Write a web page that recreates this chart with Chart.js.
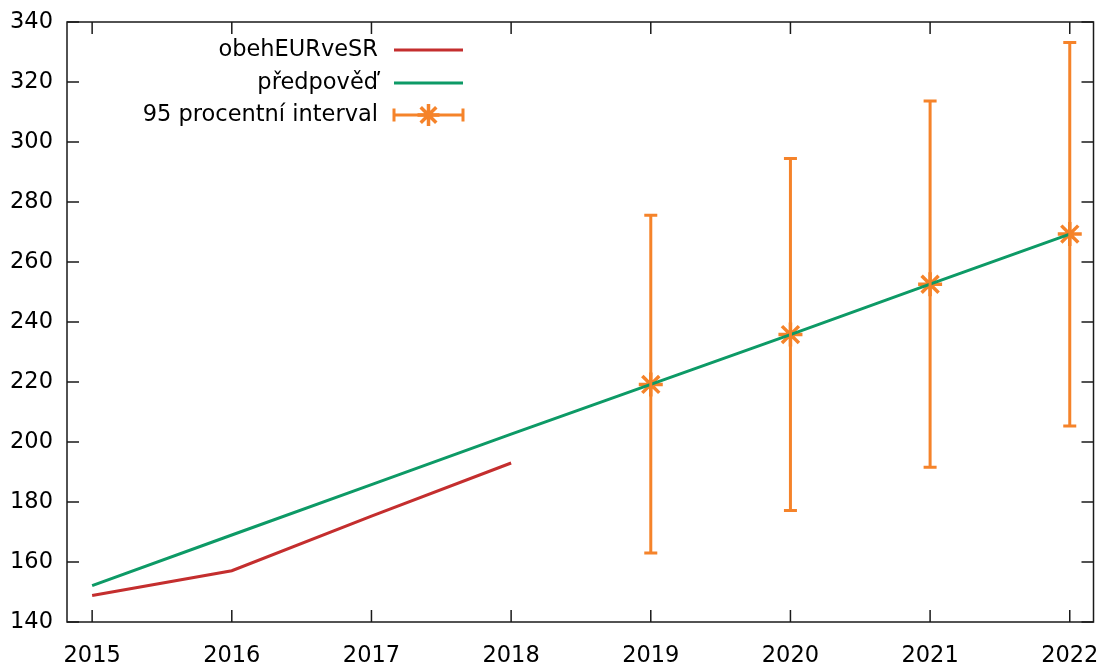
<!DOCTYPE html>
<html>
<head>
<meta charset="utf-8">
<script src="https://cdn.jsdelivr.net/npm/chart.js@4"></script>
<style>
  html, body { margin: 0; padding: 0; background: #fff; overflow: hidden; }
  /* a bit wider than the window: Chart.js keeps ~15px on the right for the last x label */
  #wrap { width: 1109px; height: 666px; position: relative; }
  canvas { display: block; }
</style>
</head>
<body>
<div id="wrap"><canvas id="c"></canvas></div>
<script>
// data
const years = [2015, 2016, 2017, 2018, 2019, 2020, 2021, 2022];
const obehEUR = [148.8, 157.1, 175.3, 193.0];
const predpoved = [152.1, 169.0, 185.8, 202.6, 219.2, 235.8, 252.6, 269.3];
const intervalYears = [2019, 2020, 2021, 2022];
const intervalMid = [219.2, 235.8, 252.6, 269.3];
const intervalLow = [163.0, 177.2, 191.6, 205.3];
const intervalHigh = [275.6, 294.5, 313.7, 333.2];
const legendLabels = ['obehEURveSR', 'předpověď', '95 procentní interval'];

const RED = '#c42e2e';
const GREEN = '#0d9a66';
const ORANGE = '#f5832a';
const FONT = "'DejaVu Sans', sans-serif";
const FSIZE = 22.5;

function pts(xs, ys) {
  return ys.map((v, i) => ({ x: xs[i], y: v }));
}

const noPad = () => ({ left: 0, top: 0, right: 0, bottom: 0 });

// gnuplot-like frame with inward ticks on all four sides
const framePlugin = {
  id: 'frame',
  afterDatasetsDraw(chart) {
    const { ctx, chartArea: a, scales } = chart;
    ctx.save();
    ctx.strokeStyle = '#1a1a1a';
    ctx.lineWidth = 1.5;
    ctx.strokeRect(a.left, a.top, a.right - a.left, a.bottom - a.top);
    const tl = 12;
    ctx.beginPath();
    scales.x.ticks.forEach(t => {
      const px = scales.x.getPixelForValue(t.value);
      ctx.moveTo(px, a.bottom); ctx.lineTo(px, a.bottom - tl);
      ctx.moveTo(px, a.top); ctx.lineTo(px, a.top + tl);
    });
    scales.y.ticks.forEach(t => {
      const py = scales.y.getPixelForValue(t.value);
      ctx.moveTo(a.left, py); ctx.lineTo(a.left + tl, py);
      ctx.moveTo(a.right, py); ctx.lineTo(a.right - tl, py);
    });
    ctx.stroke();
    ctx.restore();
  }
};

// vertical error bars with caps
const errorBarPlugin = {
  id: 'errbars',
  afterDatasetsDraw(chart) {
    const { ctx, scales } = chart;
    ctx.save();
    ctx.strokeStyle = ORANGE;
    ctx.lineWidth = 3;
    ctx.beginPath();
    intervalYears.forEach((yr, i) => {
      const px = scales.x.getPixelForValue(yr);
      const lo = scales.y.getPixelForValue(intervalLow[i]);
      const hi = scales.y.getPixelForValue(intervalHigh[i]);
      ctx.moveTo(px, lo); ctx.lineTo(px, hi);
      ctx.moveTo(px - 6.5, lo); ctx.lineTo(px + 6.5, lo);
      ctx.moveTo(px - 6.5, hi); ctx.lineTo(px + 6.5, hi);
    });
    ctx.stroke();
    ctx.restore();
  }
};

// key: text right aligned, sample on the right
const keyPlugin = {
  id: 'key',
  afterDraw(chart) {
    const { ctx } = chart;
    const textRight = 378, x0 = 394, x1 = 463;
    const rows = [50, 83, 115];
    ctx.save();
    ctx.font = FSIZE + 'px ' + FONT;
    ctx.fillStyle = '#000';
    ctx.textAlign = 'right';
    ctx.textBaseline = 'middle';
    legendLabels.forEach((lab, i) => ctx.fillText(lab, textRight, rows[i]));
    ctx.lineWidth = 3;
    ctx.strokeStyle = RED;
    ctx.beginPath(); ctx.moveTo(x0, rows[0]); ctx.lineTo(x1, rows[0]); ctx.stroke();
    ctx.strokeStyle = GREEN;
    ctx.beginPath(); ctx.moveTo(x0, rows[1]); ctx.lineTo(x1, rows[1]); ctx.stroke();
    ctx.strokeStyle = ORANGE;
    const y = rows[2];
    ctx.beginPath();
    ctx.moveTo(x0, y); ctx.lineTo(x1, y);
    ctx.moveTo(x0, y - 6.5); ctx.lineTo(x0, y + 6.5);
    ctx.moveTo(x1, y - 6.5); ctx.lineTo(x1, y + 6.5);
    ctx.stroke();
    // asterisk in the middle
    const cx = (x0 + x1) / 2, r = 11;
    ctx.lineWidth = 3.5;
    ctx.beginPath();
    ctx.moveTo(cx - r, y); ctx.lineTo(cx + r, y);
    ctx.moveTo(cx, y - r); ctx.lineTo(cx, y + r);
    const d = r * 0.7071;
    ctx.moveTo(cx - d, y - d); ctx.lineTo(cx + d, y + d);
    ctx.moveTo(cx - d, y + d); ctx.lineTo(cx + d, y - d);
    ctx.stroke();
    ctx.restore();
  }
};

new Chart(document.getElementById('c'), {
  type: 'line',
  data: {
    datasets: [
      {
        label: legendLabels[0],
        data: pts(years, obehEUR),
        borderColor: RED,
        borderWidth: 3,
        pointRadius: 0,
        tension: 0
      },
      {
        label: legendLabels[1],
        data: pts(years, predpoved),
        borderColor: GREEN,
        borderWidth: 3,
        pointRadius: 0,
        tension: 0
      },
      {
        label: legendLabels[2],
        data: pts(intervalYears, intervalMid),
        showLine: false,
        borderColor: ORANGE,
        backgroundColor: ORANGE,
        pointStyle: 'star',
        pointRadius: 12,
        pointBorderWidth: 3.5
      }
    ]
  },
  options: {
    responsive: true,
    maintainAspectRatio: false,
    animation: false,
    layout: { padding: { left: 0, top: 22, right: 10, bottom: 0 } },
    plugins: {
      legend: { display: false },
      tooltip: { enabled: false }
    },
    scales: {
      x: {
        type: 'linear',
        min: 2014.82,
        max: 2022.17,
        grid: { display: false, drawTicks: false },
        border: { display: false },
        ticks: {
          stepSize: 1,
          includeBounds: false,
          padding: 21,
          color: '#000',
          font: { family: FONT, size: FSIZE },
          callback: v => String(v)
        },
        afterFit: s => {
          s.height = 44;
          s.paddingLeft = 0;
          s.paddingRight = 0;
          s.getPadding = noPad;
        }
      },
      y: {
        min: 140,
        max: 340,
        grid: { display: false, drawTicks: false },
        border: { display: false },
        ticks: {
          stepSize: 20,
          padding: 14,
          color: '#000',
          font: { family: FONT, size: FSIZE }
        },
        afterFit: s => {
          s.width = 67;
          s.paddingTop = 0;
          s.paddingBottom = 0;
          s.getPadding = noPad;
        }
      }
    }
  },
  plugins: [framePlugin, errorBarPlugin, keyPlugin]
});
</script>
</body>
</html>
